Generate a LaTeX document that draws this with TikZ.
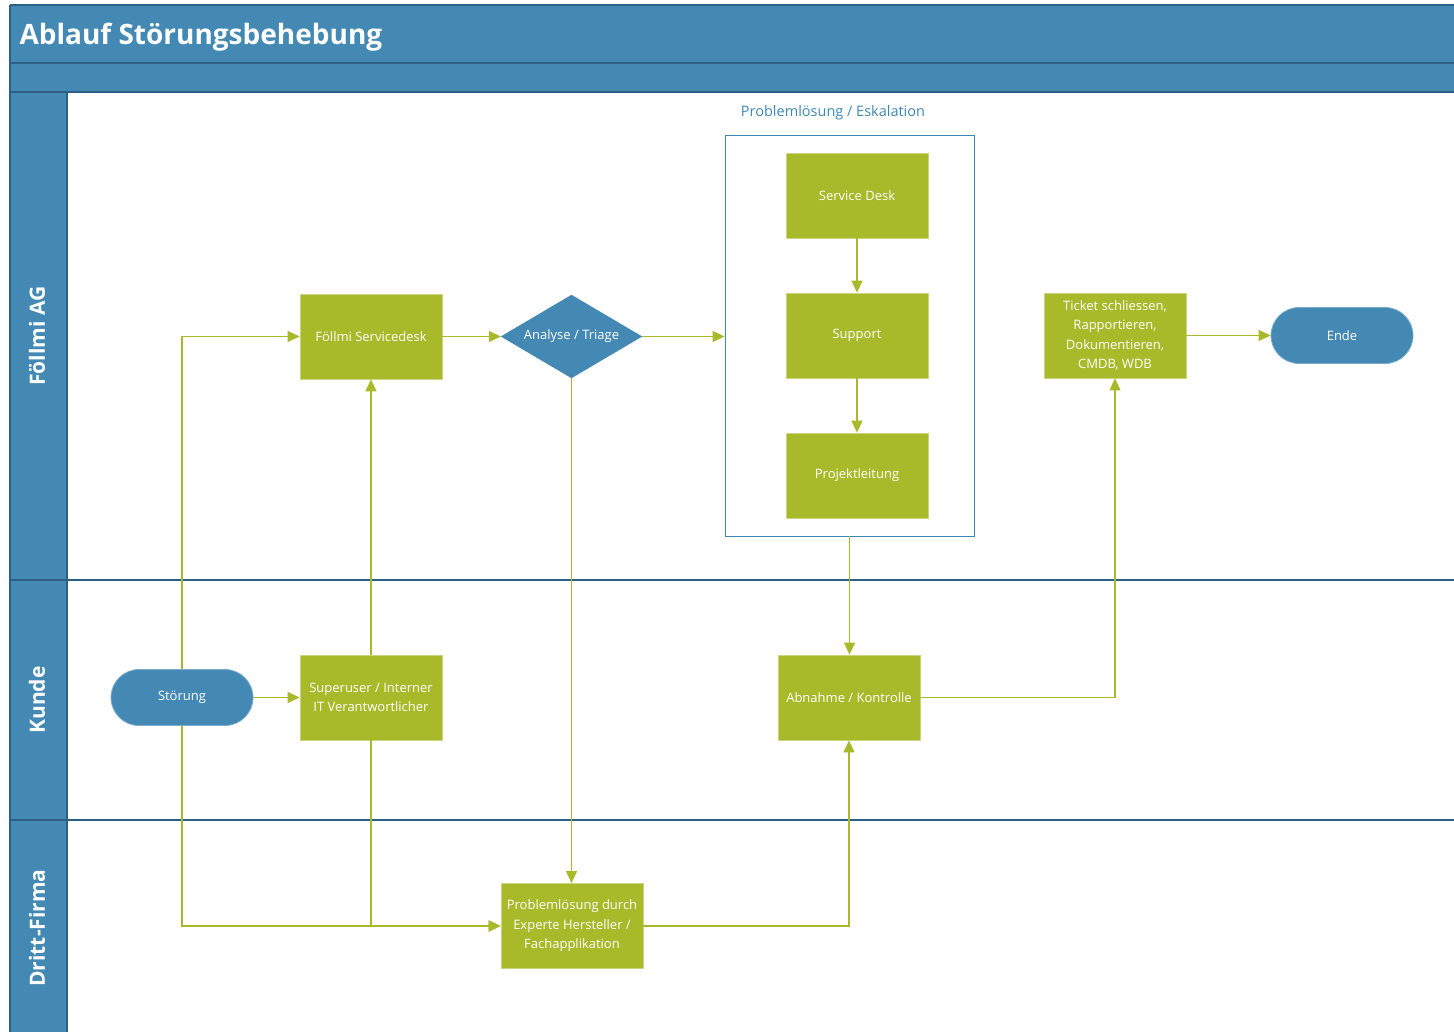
\documentclass[tikz,border=0pt]{standalone}
\usepackage{fontspec}
\setmainfont{Open Sans}
\usetikzlibrary{arrows.meta,shapes.geometric}
\definecolor{hdr}{HTML}{4389B4}
\definecolor{dk}{HTML}{2E6083}
\definecolor{grn}{HTML}{A8B92A}
\definecolor{lblue}{HTML}{3F88B5}
\tikzset{
  box/.style={rectangle, fill=grn, draw=grn!60!white, line width=0.8pt, minimum width=142pt, minimum height=85pt, inner sep=0pt, text=white, align=center, font=\fontsize{13}{19.5}\selectfont},
  term/.style={rectangle, rounded corners=28pt, fill=hdr, draw=hdr!70!white, line width=0.8pt, minimum width=142pt, minimum height=56pt, inner sep=0pt, text=white, font=\fontsize{13}{16}\selectfont},
  diabox/.style={rectangle, minimum width=141pt, minimum height=83pt, inner sep=0pt},
  diatext/.style={text=white, font=\fontsize{13}{16}\selectfont},
  conn/.style={draw=grn, line width=1.2pt, -{Triangle[length=12pt,width=11pt]}},
  lane/.style={rotate=90, text=white, font=\bfseries\fontsize{21}{21}\selectfont},
  sep/.style={draw=dk, line width=1.6pt}
}
\begin{document}
\begin{tikzpicture}[x=1pt,y=-1pt]
\useasboundingbox (0,0) rectangle (1454,1032);
\fill[white] (0,0) rectangle (1454,1032);
% header
\fill[hdr] (10,5) rectangle (1454,92);
\fill[hdr] (10,92) rectangle (67,1032);
\draw[sep] (10,5) -- (1454,5);
\draw[sep] (10,63) -- (1454,63);
\draw[sep] (10,92) -- (1454,92);
\draw[sep] (10,5) -- (10,1032);
\draw[sep] (67,92) -- (67,1032);
\draw[sep] (10,580) -- (1454,580);
\draw[sep] (10,820) -- (1454,820);
\node[anchor=base west, text=white, font=\bfseries\fontsize{28}{30}\selectfont] (title) at (16,45) {Ablauf Störungsbehebung};
% lanes
\node[lane] (l1) at (37,336) {Föllmi AG};
\node[lane] (l2) at (37,700) {Kunde};
\node[lane] (l3) at (37,928) {Dritt-Firma};
% container
\node[draw=lblue, line width=0.9pt, minimum width=249pt, minimum height=401pt, inner sep=0pt] (cont) at (849.5,335.5) {};
\node[text=lblue, font=\fontsize{14.5}{17}\selectfont] (contl) at (833,113) {Problemlösung / Eskalation};
% nodes
\node[box] (fsd) at (371,336.5) {Föllmi Servicedesk};
\node[diabox] (an) at (571.5,336.5) {};
\fill[hdr] (an.north) -- (an.east) -- (an.south) -- (an.west) -- cycle;
\node[diatext] (anl) at (an.center) {Analyse / Triage};
\node[box] (sd) at (857,195.5) {Service Desk};
\node[box] (sup) at (857,335.5) {Support};
\node[box] (pl) at (857,475.5) {Projektleitung};
\node[box] (tk) at (1115,335.5) {Ticket schliessen,\\Rapportieren,\\Dokumentieren,\\CMDB, WDB};
\node[term] (ende) at (1342,335.5) {Ende};
\node[term] (st) at (182,697.5) {Störung};
\node[box] (su) at (371,697.5) {Superuser / Interner\\IT Verantwortlicher};
\node[box] (abn) at (849,697.5) {Abnahme / Kontrolle};
\node[box] (pld) at (572,926) {Problemlösung durch\\Experte Hersteller /\\Fachapplikation};
% connectors
\draw[conn] (st.north) |- (fsd.west);
\draw[conn] (st.south) |- (pld.west);
\draw[conn] (st.east) -- (su.west);
\draw[conn] (su.north) -- (fsd.south);
\draw[conn] (su.south) |- (pld.west);
\draw[conn] (fsd.east) -- (an.west);
\draw[conn] (an.east) -- (an.east -| cont.west);
\draw[conn] (an.south) -- (an.south |- pld.north);
\draw[conn] (sd.south) -- (sup.north);
\draw[conn] (sup.south) -- (pl.north);
\draw[conn] (cont.south) -- (cont.south |- abn.north);
\draw[conn] (pld.east) -| (abn.south);
\draw[conn] (abn.east) -| (tk.south);
\draw[conn] (tk.east) -- (ende.west);
\end{tikzpicture}
\end{document}
